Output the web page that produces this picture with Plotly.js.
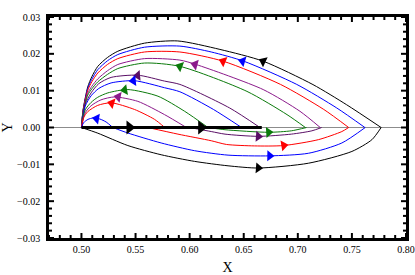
<!DOCTYPE html>
<html>
<head>
<meta charset="utf-8">
<script src="https://cdn.plot.ly/plotly-3.0.1.min.js"></script>
<style>html,body{margin:0;padding:0;background:#fff;}#chart{width:415px;height:275px;}</style>
</head>
<body>
<div id="chart"></div>
<script>
// ---------- data ----------
// Upper arcs (travelled right -> left, ending at (0.5, 0))
const upBlackX  = [0.777, 0.745, 0.714, 0.668, 0.628, 0.589, 0.5583, 0.5336, 0.524, 0.5151, 0.5096, 0.5058, 0.5015, 0.5];
const upBlackY  = [0, 0.0062, 0.01165, 0.0180, 0.0212, 0.0235, 0.0229, 0.0207, 0.0190, 0.0166, 0.0138, 0.0110, 0.0048, 0];
const upBlueX   = [0.762, 0.736, 0.699, 0.650, 0.620, 0.591, 0.5583, 0.5336, 0.524, 0.5151, 0.5096, 0.5058, 0.5015, 0.5];
const upBlueY   = [0, 0.0053, 0.0117, 0.0180, 0.0205, 0.0221, 0.0218, 0.0198, 0.0181, 0.0157, 0.0131, 0.0106, 0.0046, 0];
const upRedX    = [0.747, 0.724, 0.684, 0.631, 0.591, 0.5583, 0.5336, 0.524, 0.5151, 0.5096, 0.5058, 0.5015, 0.5];
const upRedY    = [0, 0.0049, 0.0117, 0.0180, 0.0205, 0.0205, 0.0187, 0.0171, 0.0148, 0.0124, 0.0101, 0.0045, 0];
const upPurpleX = [0.7207, 0.702, 0.668, 0.606, 0.591, 0.5583, 0.5336, 0.524, 0.5151, 0.5096, 0.5058, 0.5015, 0.5];
const upPurpleY = [0, 0.0044, 0.0103, 0.0171, 0.0183, 0.0187, 0.0171, 0.0154, 0.0132, 0.0112, 0.0093, 0.0042, 0];
const upGreenX  = [0.707, 0.690, 0.653, 0.591, 0.5583, 0.5336, 0.524, 0.5151, 0.5096, 0.5058, 0.5015, 0.5];
const upGreenY  = [0, 0.0035, 0.0098, 0.0166, 0.0175, 0.0160, 0.0144, 0.0124, 0.0105, 0.0088, 0.0040, 0];
const upDkPurX  = [0.665, 0.637, 0.591, 0.5768, 0.5521, 0.5274, 0.5160, 0.5089, 0.5035, 0.5];
const upDkPurY  = [0, 0.0053, 0.0117, 0.0126, 0.0142, 0.0136, 0.0119, 0.0094, 0.0063, 0];
const upBlue2X  = [0.648, 0.622, 0.591, 0.5768, 0.549, 0.5274, 0.5160, 0.5089, 0.5035, 0.5];
const upBlue2Y  = [0, 0.0049, 0.0097, 0.0108, 0.0127, 0.0121, 0.0106, 0.0086, 0.0058, 0];
const upGreen2X = [0.617, 0.5954, 0.5707, 0.5429, 0.5244, 0.5150, 0.5089, 0.5035, 0.5];
const upGreen2Y = [0, 0.0044, 0.0085, 0.0103, 0.0094, 0.0082, 0.0068, 0.0048, 0];
const upPurp2X  = [0.597, 0.5768, 0.5521, 0.5306, 0.5180, 0.5089, 0.5035, 0.5];
const upPurp2Y  = [0, 0.0035, 0.0071, 0.0083, 0.0075, 0.0059, 0.0040, 0];
const upRed2X   = [0.577, 0.5676, 0.549, 0.5274, 0.5150, 0.5058, 0.5020, 0.5];
const upRed2Y   = [0, 0.0022, 0.0049, 0.0067, 0.0060, 0.0043, 0.0027, 0];
const upBlue3X  = [0.529, 0.5228, 0.517, 0.511, 0.506, 0.502, 0.5];
const upBlue3Y  = [0, 0.0015, 0.0023, 0.0026, 0.0022, 0.0013, 0];

// Lower arcs (travelled left -> right)
const loBlackX  = [0.5, 0.5151, 0.5429, 0.5737, 0.6046, 0.6355, 0.6635, 0.7098, 0.75, 0.7685, 0.777];
const loBlackY  = [0, -0.00154, -0.0049, -0.0074, -0.0092, -0.0104, -0.0110, -0.0097, -0.0065, -0.0033, 0];
const loBlueX   = [0.529, 0.5429, 0.5737, 0.6046, 0.6355, 0.674, 0.7098, 0.7407, 0.7623];
const loBlueY   = [0, -0.0015, -0.0042, -0.0063, -0.0075, -0.0077, -0.0070, -0.0042, 0];
const loRedX    = [0.5614, 0.5892, 0.62, 0.634, 0.66, 0.6867, 0.719, 0.7407, 0.747];
const loRedY    = [0, -0.0018, -0.0036, -0.0046, -0.0050, -0.0049, -0.0033, -0.0011, 0];
const loPurpleX = [0.600, 0.62, 0.6327, 0.6635, 0.694, 0.713, 0.722];
const loPurpleY = [0, -0.0011, -0.0018, -0.0024, -0.0018, -0.0009, 0];
const loGreenX  = [0.617, 0.6327, 0.6728, 0.694, 0.708];
const loGreenY  = [0, -0.0006, -0.0013, -0.0009, 0];

// Thick segment on the X axis
const segX = [0.5, 0.6667];
const segY = [0, 0];

// Arrow positions (one per arc, same order as arcs below)
const upArrowX = [0.668, 0.649, 0.631, 0.605, 0.591, 0.552, 0.548, 0.540, 0.534, 0.528, 0.514];
const upArrowY = [0.0180, 0.0180, 0.0180, 0.0171, 0.0166, 0.0141, 0.0127, 0.0102, 0.0083, 0.0066, 0.0024];
const loArrowX = [0.6635, 0.674, 0.687, 0.6635, 0.673];
const loArrowY = [-0.0110, -0.0077, -0.0049, -0.0024, -0.0013];
const segArrowX = [0.5444, 0.6107];

// Tick values
const xMajor = [0.50, 0.55, 0.60, 0.65, 0.70, 0.75, 0.80];
const yMajor = [-0.03, -0.02, -0.01, 0.00, 0.01, 0.02, 0.03];

// ---------- styling ----------
const C = {black:'#000000', blue:'#0000ff', red:'#ff0000', purple:'#8b1a8b', green:'#0b7a0b', dkpur:'#5a0f66'};
const upArcs = [
  [upBlackX, upBlackY, C.black], [upBlueX, upBlueY, C.blue], [upRedX, upRedY, C.red],
  [upPurpleX, upPurpleY, C.purple], [upGreenX, upGreenY, C.green], [upDkPurX, upDkPurY, C.dkpur],
  [upBlue2X, upBlue2Y, C.blue], [upGreen2X, upGreen2Y, C.green], [upPurp2X, upPurp2Y, C.purple],
  [upRed2X, upRed2Y, C.red], [upBlue3X, upBlue3Y, C.blue]
];
const loArcs = [
  [loBlackX, loBlackY, C.black], [loBlueX, loBlueY, C.blue], [loRedX, loRedY, C.red],
  [loPurpleX, loPurpleY, C.dkpur], [loGreenX, loGreenY, C.green]
];

const W = 415, H = 275;
const ML = 49, MR = 9, MT = 17, MB = 37;
const PW = W - ML - MR, PH = H - MT - MB;
const xR = [0.47, 0.80], yR = [-0.03, 0.03];
const sx = PW / (xR[1] - xR[0]);
const sy = PH / (yR[1] - yR[0]);

function heading(xs, ys, xa) {
  for (let i = 0; i < xs.length - 1; i++) {
    const a = xs[i], b = xs[i+1];
    if ((xa - a) * (xa - b) <= 0) {
      const dx = (b - a) * sx, dy = (ys[i+1] - ys[i]) * sy;
      return Math.atan2(dx, dy) * 180 / Math.PI;
    }
  }
  return 0;
}

const traces = [];
[...upArcs, ...loArcs].forEach(([xs, ys, col]) => {
  traces.push({x: xs, y: ys, mode: 'lines', line: {color: col, width: 1, shape: 'spline', smoothing: 0.7},
    hoverinfo: 'skip', showlegend: false});
});
traces.push({x: segX, y: segY, mode: 'lines', line: {color: '#000', width: 3}, hoverinfo: 'skip', showlegend: false});

function arrowTrace(xs, ys, cols, angs, size) {
  return {x: xs, y: ys, mode: 'markers', hoverinfo: 'skip', showlegend: false,
    marker: {symbol: 'triangle-up', size: size, color: cols, angle: angs, line: {width: 0}}};
}
traces.push(arrowTrace(upArrowX, upArrowY, upArcs.map(a => a[2]),
  upArcs.map((a, i) => heading(a[0], a[1], upArrowX[i])), 9.5));
traces.push(arrowTrace(loArrowX, loArrowY, loArcs.map(a => a[2]),
  loArcs.map((a, i) => heading(a[0], a[1], loArrowX[i])), 9.5));
traces.push(arrowTrace(segArrowX, segArrowX.map(() => 0), '#000',
  segArrowX.map(x => heading(segX, segY, x)), 12));

// Frame tick marks (Mathematica style, inside, on all four sides)
const shapes = [];
const MAJ = 5, MIN = 3;
function isMajor(v, list) { return list.some(m => Math.abs(m - v) < 1e-9); }
function xTick(v, len) {
  const f = len / PH;
  shapes.push({type: 'line', xref: 'x', yref: 'paper', x0: v, x1: v, y0: 0, y1: f, line: {color: '#000', width: 2}});
  shapes.push({type: 'line', xref: 'x', yref: 'paper', x0: v, x1: v, y0: 1, y1: 1 - f, line: {color: '#000', width: 2}});
}
function yTick(v, len) {
  const f = len / PW;
  shapes.push({type: 'line', xref: 'paper', yref: 'y', x0: 0, x1: f, y0: v, y1: v, line: {color: '#000', width: 2}});
  shapes.push({type: 'line', xref: 'paper', yref: 'y', x0: 1, x1: 1 - f, y0: v, y1: v, line: {color: '#000', width: 2}});
}
for (let k = 47; k <= 80; k++) { const v = k / 100; xTick(v, isMajor(v, xMajor) ? MAJ : MIN); }
for (let k = -15; k <= 15; k++) { const v = k / 500; yTick(v, isMajor(v, yMajor) ? MAJ : MIN); }

const layout = {
  width: W, height: H, margin: {l: ML, r: MR, t: MT, b: MB},
  paper_bgcolor: '#fff', plot_bgcolor: '#fff', showlegend: false, shapes: shapes,
  xaxis: {
    range: xR, tickmode: 'array', tickvals: xMajor, tickformat: '.2f', zeroline: false, showgrid: false,
    showline: true, linewidth: 2.5, linecolor: '#000', mirror: true, ticks: '',
    tickfont: {family: 'Liberation Serif', size: 10, color: '#000'},
    title: {text: 'X', font: {family: 'Liberation Serif', size: 14, color: '#000'}, standoff: 10}
  },
  yaxis: {
    range: yR, tickmode: 'array', tickvals: yMajor, tickformat: '.2f', zeroline: true,
    zerolinecolor: '#8c8c8c', zerolinewidth: 1, showgrid: false,
    showline: true, linewidth: 2.5, linecolor: '#000', mirror: true, ticks: '',
    ticklabelstandoff: 4,
    tickfont: {family: 'Liberation Serif', size: 10, color: '#000'},
    title: {text: 'Y', font: {family: 'Liberation Serif', size: 14, color: '#000'}, standoff: 8}
  }
};
Plotly.newPlot('chart', traces, layout, {displayModeBar: false});
</script>
</body>
</html>
